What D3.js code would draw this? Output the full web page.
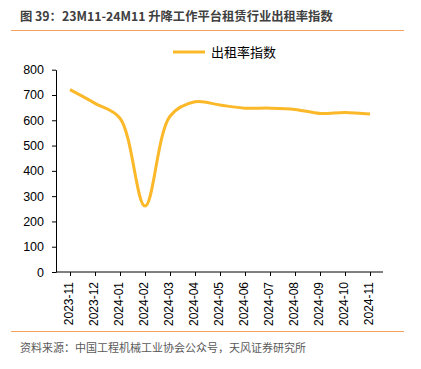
<!DOCTYPE html>
<html><head><meta charset="utf-8">
<script src="https://cdn.jsdelivr.net/npm/d3@7"></script>
<style>body{margin:0;background:#fff;} svg{display:block;}</style>
</head><body><svg id="c" width="421" height="369"></svg>
<script>
const categories = ["2023-11","2023-12","2024-01","2024-02","2024-03","2024-04","2024-05","2024-06","2024-07","2024-08","2024-09","2024-10","2024-11"];
const values = [721, 667, 608, 261, 616, 673, 660, 648, 648, 643, 627, 631, 625];
const yTicks = [0,100,200,300,400,500,600,700,800];
const seriesName = "出租率指数";
const titleText = "图 39：23M11-24M11 升降工作平台租赁行业出租率指数";
const sourceText = "资料来源：中国工程机械工业协会公众号，天风证券研究所";

const svg = d3.select("#c");
const cjk = "'Noto Sans CJK SC', 'Noto Sans', sans-serif";
const latin = "'Liberation Sans', Arial, sans-serif";

// title
svg.append("text").attr("x", 20).attr("y", 21).attr("font-family", cjk)
  .attr("font-size", 12.3).attr("font-weight", "bold").attr("fill", "#404040").text(titleText);
svg.append("line").attr("x1", 11).attr("x2", 404).attr("y1", 30.5).attr("y2", 30.5)
  .attr("stroke", "#F4A15D").attr("stroke-width", 1.2);
svg.append("line").attr("x1", 11).attr("x2", 404).attr("y1", 331.5).attr("y2", 331.5)
  .attr("stroke", "#F4A15D").attr("stroke-width", 1.2);
svg.append("text").attr("x", 20).attr("y", 352).attr("font-family", cjk)
  .attr("font-size", 11).attr("fill", "#595959").text(sourceText);

const x = d3.scalePoint().domain(categories).range([70, 370]);
const y = d3.scaleLinear().domain([0, 800]).range([272, 69.7]);

// y axis
const ya = svg.append("g").attr("transform", "translate(56,0)")
  .call(d3.axisLeft(y).tickValues(yTicks).tickSize(4).tickSizeOuter(0).tickPadding(8));
ya.select(".domain").attr("stroke", "#000");
ya.selectAll("text").attr("font-family", latin).attr("font-size", 12.5).attr("fill", "#000");

// x axis
const xa = svg.append("g").attr("transform", "translate(0,272)");
xa.append("line").attr("x1", 56).attr("x2", 383).attr("y1", 0).attr("y2", 0).attr("stroke", "#000");
xa.call(d3.axisBottom(x).tickSize(4).tickSizeOuter(0).tickPadding(6));
xa.select(".domain").remove();
xa.selectAll("text").attr("font-family", latin).attr("font-size", 12).attr("fill", "#000")
  .attr("transform", "rotate(-90)").attr("text-anchor", "end").attr("dx", "-0.5em").attr("dy", "-0.35em").attr("x", -4).attr("y", 4)
  .attr("dominant-baseline", "middle");

// line
const line = d3.line().x((d, i) => x(categories[i])).y(d => y(d)).curve(d3.curveCatmullRom.alpha(0.5));
svg.append("path").datum(values).attr("d", line).attr("fill", "none")
  .attr("stroke", "#FBB829").attr("stroke-width", 3);

// legend
svg.append("line").attr("x1", 173).attr("x2", 205).attr("y1", 52).attr("y2", 52)
  .attr("stroke", "#FBB829").attr("stroke-width", 3);
svg.append("text").attr("x", 211).attr("y", 57).attr("font-family", cjk)
  .attr("font-size", 13).attr("fill", "#000").text(seriesName);
</script></body></html>
